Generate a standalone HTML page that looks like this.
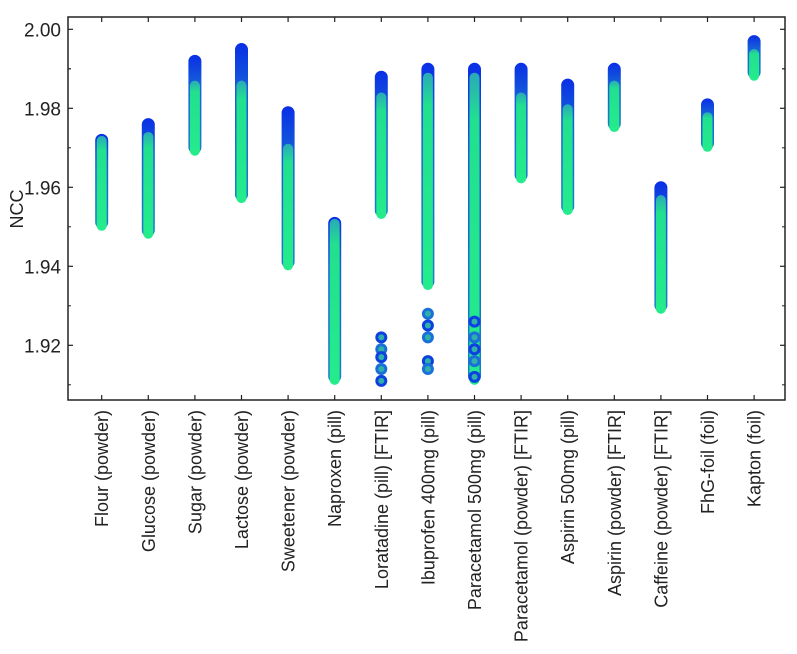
<!DOCTYPE html>
<html><head><meta charset="utf-8"><style>
body{margin:0;background:#fff;}
svg{display:block;font-family:"Liberation Sans",Arial,sans-serif;}
</style></head><body>
<svg id="chart" width="797" height="654"></svg>
<script>
const categories=["Flour (powder)","Glucose (powder)","Sugar (powder)","Lactose (powder)","Sweetener (powder)","Naproxen (pill)","Loratadine (pill) [FTIR]","Ibuprofen 400mg (pill)","Paracetamol 500mg (pill)","Paracetamol (powder) [FTIR]","Aspirin 500mg (pill)","Aspirin (powder) [FTIR]","Caffeine (powder) [FTIR]","FhG-foil (foil)","Kapton (foil)"];
const topVals=[1.972,1.976,1.992,1.995,1.979,1.951,1.988,1.990,1.990,1.990,1.986,1.990,1.960,1.981,1.997];
const bottomVals=[1.950,1.948,1.969,1.957,1.940,1.911,1.953,1.935,1.911,1.962,1.954,1.975,1.929,1.970,1.988];
const greenTopVals=[1.972,1.973,1.986,1.986,1.970,1.951,1.983,1.988,1.988,1.983,1.980,1.986,1.957,1.978,1.994];
const outlierCats=[6,6,6,6,6,7,7,7,7,7,8,8,8,8,8];
const outlierVals=[1.922,1.919,1.917,1.914,1.911,1.928,1.925,1.922,1.916,1.914,1.926,1.922,1.919,1.916,1.912];
const yTicks=[1.92,1.94,1.96,1.98,2.00];
const yTickLabels=["1.92","1.94","1.96","1.98","2.00"];

const NS="http://www.w3.org/2000/svg";
const svg=document.getElementById('chart');
const L=68,R=785,T=17,B=400;
function y(v){return 29.3+(2.00-v)*3950;}
function x(i){return 101.7+46.6*i;}
function mk(tag,attrs,parent){const e=document.createElementNS(NS,tag);for(const k in attrs)e.setAttribute(k,attrs[k]);(parent||svg).appendChild(e);return e;}

const defs=mk('defs',{});
const g1=mk('linearGradient',{id:'blueg',x1:0,y1:0,x2:0,y2:1},defs);
mk('stop',{offset:'0','stop-color':'#0a2ee6'},g1);
mk('stop',{offset:'0.3','stop-color':'#1560d8'},g1);
mk('stop',{offset:'1','stop-color':'#1a80c8'},g1);
const g2=mk('linearGradient',{id:'greeng',x1:0,y1:0,x2:0,y2:1},defs);
mk('stop',{offset:'0','stop-color':'#2aa8b8'},g2);
mk('stop',{offset:'0.15','stop-color':'#22e08e'},g2);
mk('stop',{offset:'1','stop-color':'#24ec8c'},g2);

for(let i=0;i<categories.length;i++){
  const cx=x(i);
  const yt=y(topVals[i]),yb=y(bottomVals[i]),yg=y(greenTopVals[i]);
  const outer=mk('rect',{x:cx-6.5,y:yt-6,width:13,height:Math.max(yb-yt+8,1),rx:6.5,fill:'url(#blueg)'});
  
  
  const inner=mk('rect',{x:cx-5,y:yg-4,width:10,height:Math.max(yb-yg+8,1),rx:5,fill:'url(#greeng)'});
  
  
}
for(let k=0;k<outlierVals.length;k++){
  const c=mk('circle',{cx:x(outlierCats[k]),cy:y(outlierVals[k]),r:6,fill:k%2?'#1a70d8':'#0d40e0'});
  
  
  const c2=mk('circle',{cx:x(outlierCats[k]),cy:y(outlierVals[k]),r:3,fill:'#30b0a8'});
  
  
}

const frame=mk('rect',{x:L,y:T,width:R-L,height:B-T,fill:'none',stroke:'#222','stroke-width':1.5});



for(let t=0;t<yTicks.length;t++){
  const yy=y(yTicks[t]);
  mk('line',{x1:L,x2:L+5,y1:yy,y2:yy,stroke:'#222','stroke-width':1.2});
  mk('line',{x1:R,x2:R-5,y1:yy,y2:yy,stroke:'#222','stroke-width':1.2});
  const lbl=mk('text',{x:L-7,y:yy+7,'text-anchor':'end','font-size':19,fill:'#222'});
  lbl.textContent=yTickLabels[t];
  
  
  const ym=y(yTicks[t]-0.01);
  if(ym<B){mk('line',{x1:L,x2:L+3,y1:ym,y2:ym,stroke:'#222'});mk('line',{x1:R,x2:R-3,y1:ym,y2:ym,stroke:'#222'});}
}
const ymTop=y(1.99);mk('line',{x1:L,x2:L+3,y1:ymTop,y2:ymTop,stroke:'#222'});mk('line',{x1:R,x2:R-3,y1:ymTop,y2:ymTop,stroke:'#222'});

for(let i=0;i<categories.length;i++){
  const cx=x(i);
  mk('line',{x1:cx,x2:cx,y1:T,y2:T+5,stroke:'#222','stroke-width':1.2});
  mk('line',{x1:cx,x2:cx,y1:B,y2:B-5,stroke:'#222','stroke-width':1.2});
  const lbl=mk('text',{transform:`translate(${cx+6.5},${B+10}) rotate(-90)`,'text-anchor':'end','font-size':18,fill:'#222'});
  lbl.textContent=categories[i];
  
  
}
const yt=mk('text',{transform:'translate(23,209) rotate(-90)','text-anchor':'middle','font-size':18,fill:'#222'});
yt.textContent='NCC';


</script>
</body></html>
